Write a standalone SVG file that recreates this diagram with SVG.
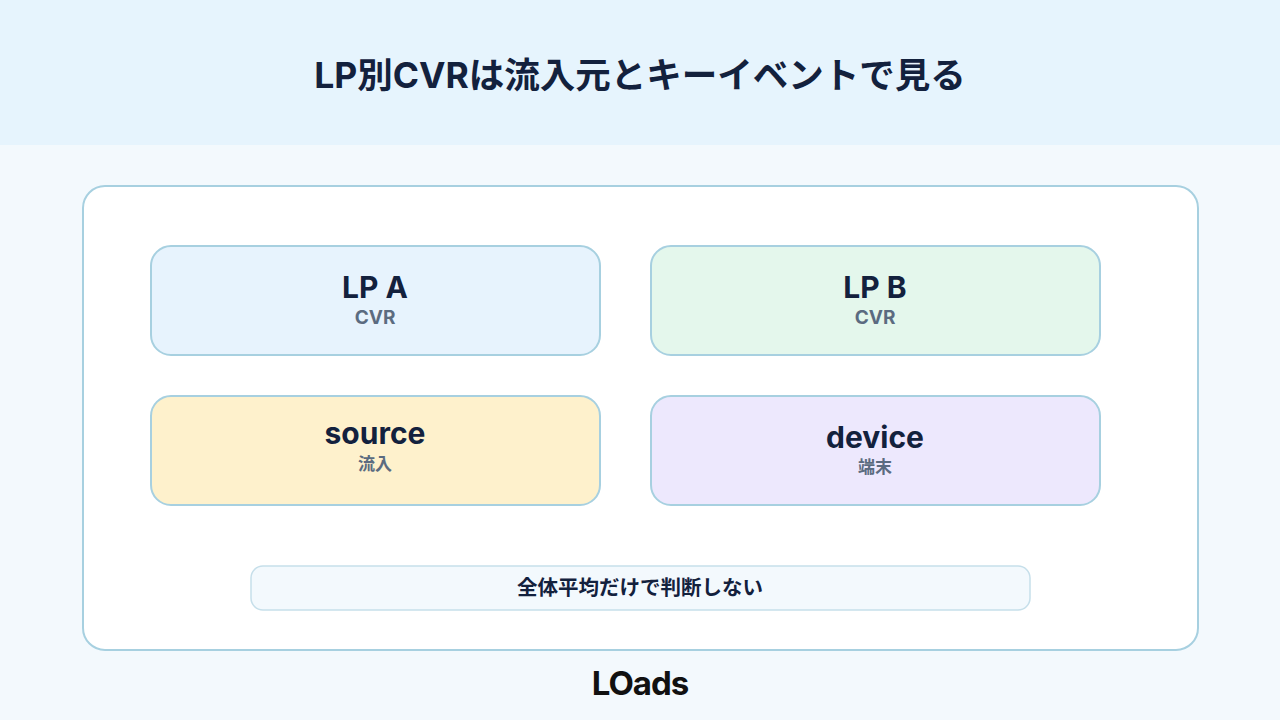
<svg xmlns="http://www.w3.org/2000/svg" width="1280" height="720" viewBox="0 0 1280 720">
<style>
.t{font-family:"Inter","Noto Sans CJK JP",sans-serif;font-weight:700;text-anchor:middle}
.n{stroke:#a7d0e0;stroke-width:2}
.lab{fill:#13213d;font-size:30px}
.sub{fill:#5b6b80;font-size:19px}
.subj{fill:#5b6b80;font-size:17px}
</style>
<rect width="1280" height="720" fill="#f3f9fd"/>
<rect width="1280" height="145" fill="#e6f4fd"/>
<text class="t" x="640" y="88" fill="#13213d" font-size="35.5">LP別CVRは流入元とキーイベントで見る</text>
<rect x="83" y="186" width="1115" height="464" rx="22" fill="#fff" stroke="#a7d0e0" stroke-width="2"/>
<g id="lpa"><rect class="n" x="151" y="246" width="449" height="109" rx="20" fill="#e7f3fd"/>
<text class="t lab" x="375" y="298">LP A</text><text class="t sub" x="375" y="324">CVR</text></g>
<g id="lpb"><rect class="n" x="651" y="246" width="449" height="109" rx="20" fill="#e4f7ec"/>
<text class="t lab" x="875" y="298">LP B</text><text class="t sub" x="875" y="324">CVR</text></g>
<g id="source"><rect class="n" x="151" y="396" width="449" height="109" rx="20" fill="#fef1cc"/>
<text class="t lab" x="375" y="444">source</text><text class="t subj" x="375" y="470">流入</text></g>
<g id="device"><rect class="n" x="651" y="396" width="449" height="109" rx="20" fill="#ede8fd"/>
<text class="t lab" x="875" y="448">device</text><text class="t subj" x="875" y="473">端末</text></g>
<g id="note"><rect x="251" y="566" width="779" height="44" rx="12" fill="#f3f9fd" stroke="#c6dfea" stroke-width="1.5"/>
<text class="t" x="640" y="595" fill="#13213d" font-size="20.5">全体平均だけで判断しない</text></g>
<g id="connectors"/>
<text class="t" x="640" y="695" fill="#111" font-size="33" letter-spacing="-1">LOads</text>
</svg>
